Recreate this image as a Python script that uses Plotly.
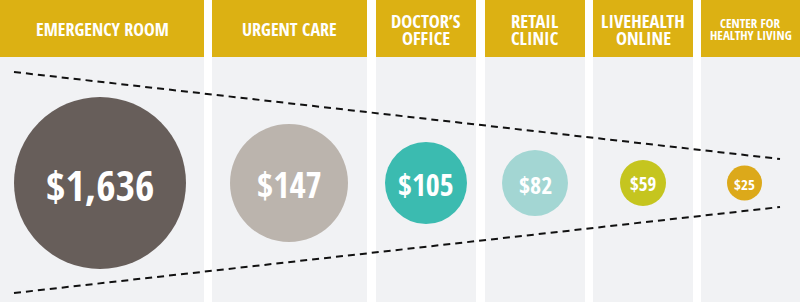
import plotly.graph_objects as go

# ---- data ----
categories = ["EMERGENCY ROOM", "URGENT CARE", "DOCTOR’S<br>OFFICE", "RETAIL<br>CLINIC",
              "LIVEHEALTH<br>ONLINE", "CENTER FOR<br>HEALTHY LIVING"]
costs = [1636, 147, 105, 82, 59, 25]
cost_labels = ["$1,636", "$147", "$105", "$82", "$59", "$25"]

# ---- style / layout ----
col_left = [0, 212, 376, 485, 593, 701]
col_right = [204, 367, 476, 585, 693, 800]
circle_x = [100, 289, 426, 535, 643, 744.5]
circle_d = [172, 118, 82, 66, 46, 35]
circle_colors = ["#675E5A", "#BBB4AD", "#3BBBB0", "#A3D6D3", "#C5C51F", "#DCA91A"]
value_font = [42, 35, 30, 24, 19, 15]
head_font = [18, 18, 18.5, 18.5, 18.5, 13]
head_gap = [17, 17, 17, 17, 17, 12]
GOLD = "#DCB113"
PANEL = "#F1F2F4"
W, H = 800, 303
HEAD_H = 57
CY = 183

fig = go.Figure()
shapes = []
for l, r in zip(col_left, col_right):
    shapes.append(dict(type="rect", x0=l, x1=r, y0=0, y1=HEAD_H, fillcolor=GOLD,
                       line=dict(width=0), layer="below"))
    shapes.append(dict(type="rect", x0=l, x1=r, y0=HEAD_H, y1=302, fillcolor=PANEL,
                       line=dict(width=0), layer="below"))

# dashed funnel lines
for ys in ([72, 159], [293, 207]):
    fig.add_trace(go.Scatter(x=[14, 780], y=ys, mode="lines",
                             line=dict(color="#111111", width=2, dash="7px,5px"),
                             hoverinfo="skip"))

fig.add_trace(go.Scatter(
    x=circle_x, y=[CY] * len(costs), mode="markers",
    marker=dict(size=circle_d, color=circle_colors, line=dict(width=0), opacity=1),
    customdata=costs, hovertemplate="%{customdata}<extra></extra>"))

FONT = "Open Sans Condensed, Roboto Condensed, DejaVu Sans Condensed, sans-serif"
annotations = []
for i, (cat, lab) in enumerate(zip(categories, cost_labels)):
    cx = (col_left[i] + col_right[i]) / 2
    lines = cat.split("<br>")
    n = len(lines)
    for j, ln in enumerate(lines):
        y = 29 + (j - (n - 1) / 2) * head_gap[i]
        annotations.append(dict(x=cx, y=y, text="<b>" + ln + "</b>", showarrow=False,
                                xref="x", yref="y",
                                font=dict(family=FONT, size=head_font[i], color="white")))
    annotations.append(dict(x=circle_x[i], y=CY + 1, text="<b>" + lab + "</b>", showarrow=False,
                            xref="x", yref="y",
                            font=dict(family=FONT, size=value_font[i], color="white")))

fig.update_layout(
    width=W, height=H, margin=dict(l=0, r=0, t=0, b=0),
    paper_bgcolor="white", plot_bgcolor="white", showlegend=False,
    xaxis=dict(range=[0, W], visible=False, fixedrange=True),
    yaxis=dict(range=[H, 0], visible=False, fixedrange=True),
    shapes=shapes, annotations=annotations,
)
fig.write_html("out.html")
